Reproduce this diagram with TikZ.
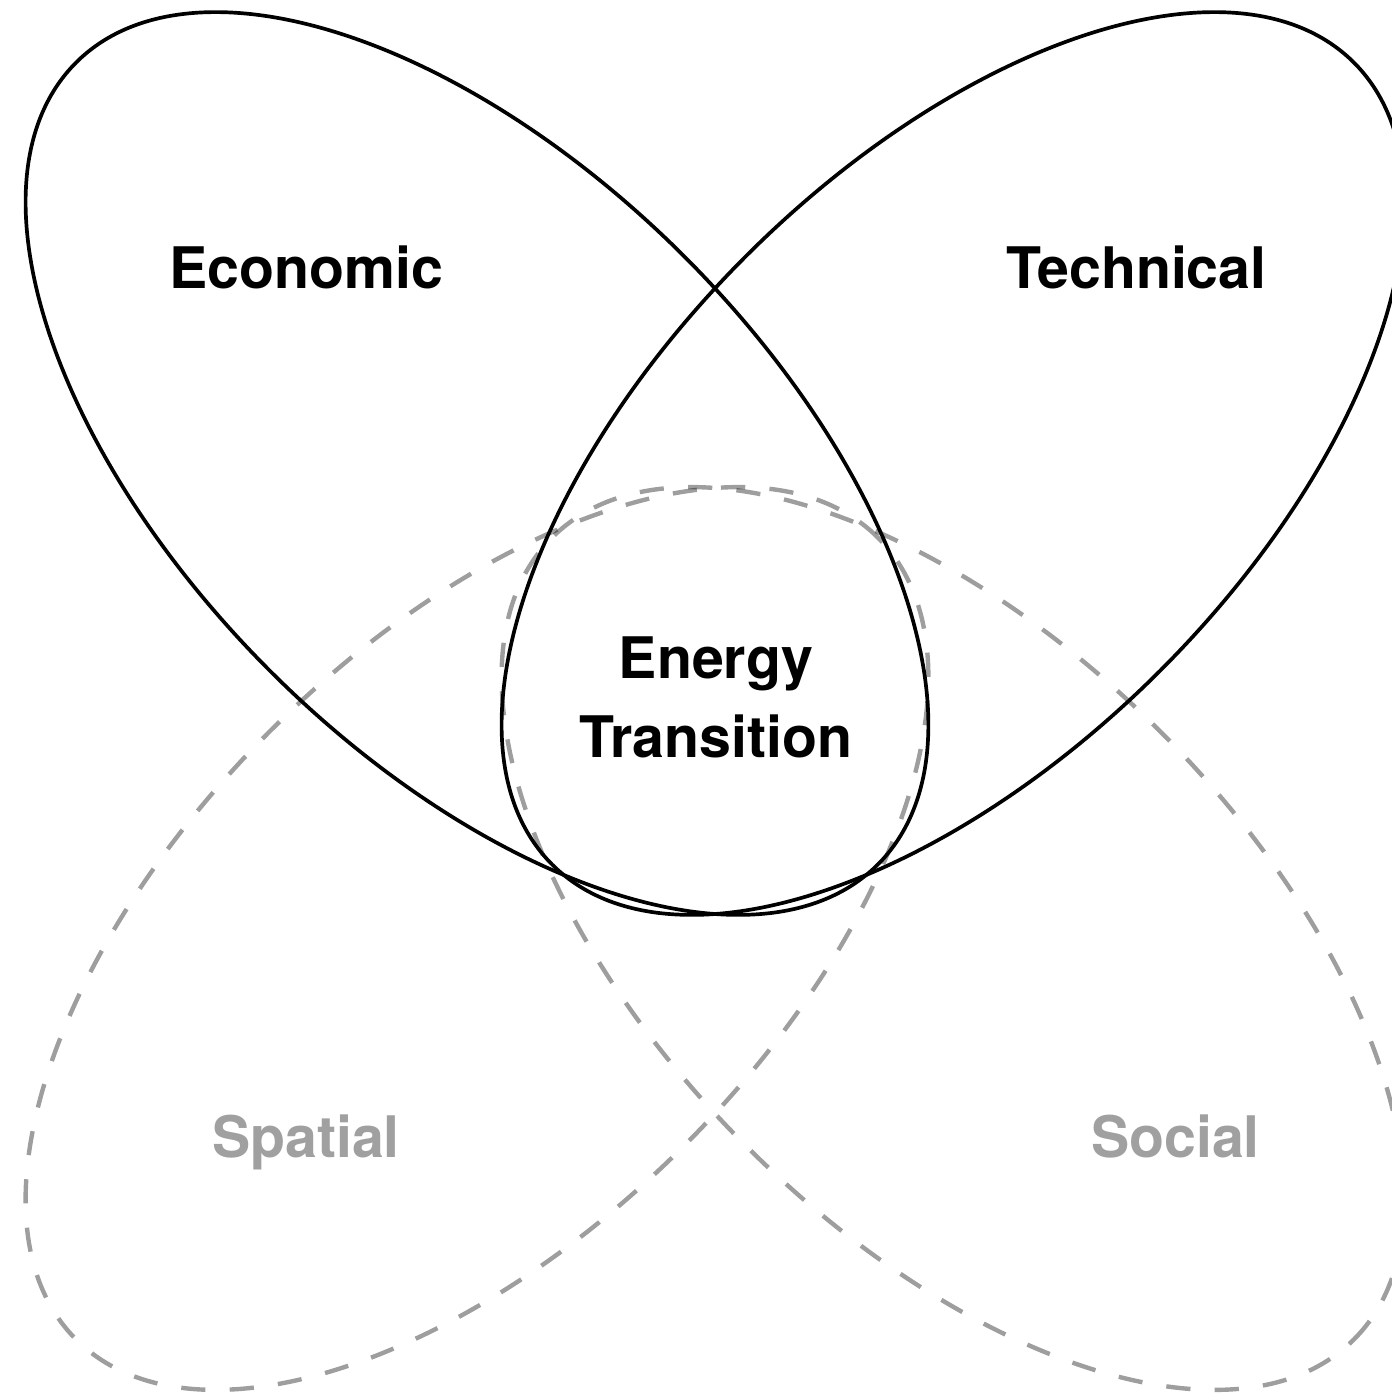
\documentclass[tikz,border=0pt]{standalone}
\usepackage{fontspec}
\setmainfont{TeX Gyre Heros}
\definecolor{labelgray}{HTML}{A0A0A0}
\begin{document}
\begin{tikzpicture}[
  solidpetal/.style={draw=black, line width=1.05pt},
  dashpetal/.style={draw=black, draw opacity=0.38, line width=1.25pt, dash pattern=on 6.9pt off 6.9pt},
  bigtxt/.style={font=\fontsize{16.3}{22.5}\selectfont\bfseries, inner sep=0pt, text=black},
  graytxt/.style={bigtxt, text=labelgray}
]
\useasboundingbox (-7.15,-6.92) rectangle (6.77,7.01);
\clip (-7.15,-6.92) rectangle (6.77,7.01);
\coordinate (ecoC) at (-2.38,2.375);
\coordinate (tecC) at (2.38,2.375);
\coordinate (spaC) at (-2.38,-2.375);
\coordinate (socC) at (2.38,-2.375);
% dashed petals
\draw[dashpetal, rotate around={45:(spaC)}] (spaC) ellipse [x radius=5.67, y radius=2.93];
\draw[dashpetal, rotate around={-45:(socC)}] (socC) ellipse [x radius=5.67, y radius=2.93];
% solid petals
\draw[solidpetal, rotate around={-45:(ecoC)}] (ecoC) ellipse [x radius=5.67, y radius=2.93];
\draw[solidpetal, rotate around={45:(tecC)}] (tecC) ellipse [x radius=5.67, y radius=2.93];
% labels
\node[bigtxt, anchor=base] (eco) at (-4.09,4.13) {Economic};
\node[bigtxt, anchor=base] (tec) at (4.215,4.13) {Technical};
\node[graytxt, anchor=base] (spa) at (-4.09,-4.56) {Spatial};
\node[graytxt, anchor=base] (soc) at (4.605,-4.56) {Social};
\node[bigtxt, align=center] (et) at (0.01,0.04) {Energy\\Transition};
\end{tikzpicture}
\end{document}
